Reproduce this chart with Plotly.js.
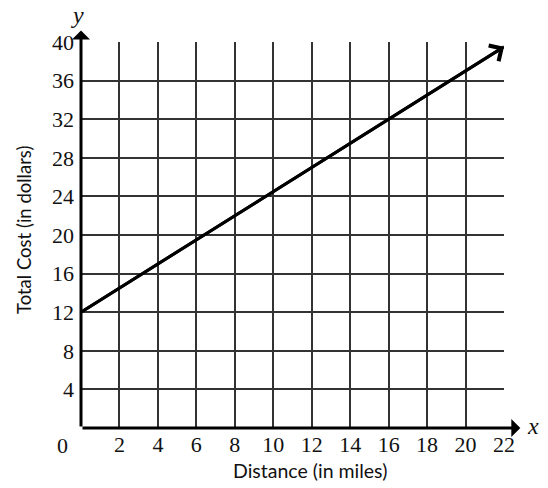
<!DOCTYPE html>
<html>
<head>
<meta charset="utf-8">
<script src="https://cdn.plot.ly/plotly-3.0.1.min.js"></script>
<style>html,body{margin:0;padding:0;background:#fff;}#chart{width:548px;height:488px;}</style>
</head>
<body>
<div id="chart"></div>
<script>
// Data
const distance = [0, 22];
const totalCost = [12, 39.5];
const xTickVals = [2, 4, 6, 8, 10, 12, 14, 16, 18, 20, 22];
const yTickVals = [4, 8, 12, 16, 20, 24, 28, 32, 36, 40];
const xTitle = "Distance (in miles)";
const yTitle = "Total Cost (in dollars)";

const n = distance.length;
const tickFont = {family: "Liberation Serif, serif", size: 22, color: "#111"};

const trace = {
  x: distance, y: totalCost, mode: "lines", type: "scatter",
  line: {color: "#000", width: 3}, hoverinfo: "skip", cliponaxis: false
};

const W = 548, H = 488, M = {l: 81, r: 44, t: 42, b: 60};
const pw = W - M.l - M.r, ph = H - M.t - M.b;
const px = v => (v - M.l) / pw;
const py = v => 1 - (v - M.t) / ph;

const layout = {
  width: W, height: H,
  margin: M,
  paper_bgcolor: "#fff", plot_bgcolor: "#fff",
  showlegend: false,
  xaxis: {
    range: [0, 22], tickvals: xTickVals, ticks: "", showgrid: true,
    gridcolor: "#333", gridwidth: 2, zeroline: false, showline: false,
    tickfont: tickFont, ticklabelstandoff: 1, fixedrange: true
  },
  yaxis: {
    range: [0, 40], tickvals: yTickVals, ticks: "", showgrid: true,
    gridcolor: "#333", gridwidth: 2, zeroline: false, showline: false,
    tickfont: tickFont, ticklabelstandoff: 6, fixedrange: true
  },
  annotations: [
    // x axis with arrow
    {x: 22.85, y: 0, ax: 0, ay: 0, xref: "x", yref: "y", axref: "x", ayref: "y",
     showarrow: true, arrowhead: 1, arrowsize: 1, arrowwidth: 3, arrowcolor: "#000", text: ""},
    // y axis with arrow
    {x: 0, y: 41.2, ax: 0, ay: 0, xref: "x", yref: "y", axref: "x", ayref: "y",
     showarrow: true, arrowhead: 1, arrowsize: 1, arrowwidth: 3, arrowcolor: "#000", text: ""},
    // arrowhead on the line
    {x: distance[n-1], y: totalCost[n-1], ax: distance[n-2], ay: totalCost[n-2],
     xref: "x", yref: "y", axref: "x", ayref: "y",
     showarrow: true, arrowhead: 4, arrowsize: 1.2, arrowwidth: 3, arrowcolor: "#000", text: ""},
    // origin label
    {x: 0, y: 0, xref: "x", yref: "y", text: "0", showarrow: false,
     xanchor: "right", yanchor: "top", xshift: -11, yshift: -3, font: tickFont},
    // axis letters
    {x: px(533), y: py(426), xref: "paper", yref: "paper", text: "<i>x</i>", showarrow: false,
     xanchor: "center", yanchor: "middle",
     font: {family: "Liberation Serif, serif", size: 24, color: "#111"}},
    {x: px(77), y: py(15), xref: "paper", yref: "paper", text: "<i>y</i>", showarrow: false,
     xanchor: "center", yanchor: "middle",
     font: {family: "Liberation Serif, serif", size: 24, color: "#111"}},
    // axis titles
    {x: px(310), y: py(470), xref: "paper", yref: "paper", text: xTitle, showarrow: false,
     xanchor: "center", yanchor: "middle", font: {family: "Lato, sans-serif", size: 19.5, color: "#111"}},
    {x: px(24), y: py(230), xref: "paper", yref: "paper", text: yTitle, showarrow: false, textangle: -90,
     xanchor: "center", yanchor: "middle", font: {family: "Lato, sans-serif", size: 18.5, color: "#111"}}
  ]
};

Plotly.newPlot("chart", [trace], layout, {staticPlot: true, displayModeBar: false});
</script>
</body>
</html>
